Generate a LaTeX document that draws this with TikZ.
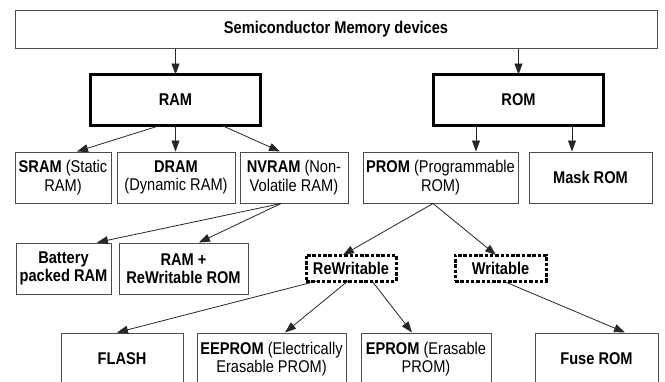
\documentclass[tikz,border=0pt]{standalone}
\usepackage{fontspec}
\setmainfont{Liberation Sans}[FakeStretch=0.86]
\usetikzlibrary{arrows.meta}

\tikzset{
  membox/.style={draw=black!70, line width=1pt, align=center, inner sep=0pt,
    font=\fontsize{17}{18.5}\selectfont},
  mainbox/.style={membox, draw=black, line width=3pt},
  dashbox/.style={membox, draw=black, line width=3pt, dash pattern=on 3.5pt off 1.8pt},
  arr/.style={-{Triangle[length=11pt,width=8pt]}, line width=0.8pt, draw=black!85},
}

\begin{document}
\begin{tikzpicture}[x=1pt, y=-1pt]
		%%%%% START %%%%%
		\fill[white] (0,0) rectangle (665,381);
		\useasboundingbox (0,0) rectangle (665,381);
		\clip (0,0) rectangle (665,381);
		
		\node[membox, minimum width=642pt, minimum height=38pt] (semi) at (336,29) {\textbf{Semiconductor Memory devices}};
		
		\node[mainbox, minimum width=170pt, minimum height=51pt] (ram) at (175.5,100) {\textbf{RAM}};
		\node[mainbox, minimum width=170pt, minimum height=51pt] (rom) at (518.5,100) {\textbf{ROM}};
		
		\node[membox, minimum width=96pt, minimum height=51pt] (sram) at (63,177.5) {\textbf{SRAM} (Static\\RAM)};
		\node[membox, minimum width=118pt, minimum height=51pt] (dram) at (176,177.5) {\textbf{DRAM}\\(Dynamic RAM)};
		\node[membox, minimum width=108pt, minimum height=51pt] (nvram) at (294,177.5) {\textbf{NVRAM} (Non-\\Volatile RAM)};
		\node[membox, minimum width=155pt, minimum height=51pt] (prom) at (440.5,177.5) {\textbf{PROM} (Programmable\\ROM)};
		\node[membox, minimum width=123pt, minimum height=51pt] (mask) at (590.5,177.5) {\textbf{Mask ROM}};
		
		\node[membox, minimum width=95pt, minimum height=51pt] (battery) at (63.5,268.5) {\textbf{Battery}\\\textbf{packed RAM}};
		\node[membox, minimum width=129pt, minimum height=51pt] (ramrom) at (183.5,268.5) {\textbf{RAM +}\\\textbf{ReWritable ROM}};
		\node[dashbox, minimum width=90pt, minimum height=26pt] (rewrite) at (351,268) {\textbf{ReWritable}};
		\node[dashbox, minimum width=91pt, minimum height=26pt] (write) at (500.5,268) {\textbf{Writable}};
		
		\node[membox, minimum width=122pt, minimum height=52pt] (flash) at (122,359) {\textbf{FLASH}};
		\node[membox, minimum width=149pt, minimum height=52pt] (eeprom) at (271.5,359) {\textbf{EEPROM} (Electrically\\Erasable PROM)};
		\node[membox, minimum width=130pt, minimum height=52pt] (eprom) at (426,359) {\textbf{EPROM} (Erasable\\PROM)};
		\node[membox, minimum width=123pt, minimum height=52pt] (fuse) at (596.5,359) {\textbf{Fuse ROM}};
		
		% top level
		\draw[arr] (semi.south -| ram.north) -- ([yshift=-1.5pt]ram.north);
		\draw[arr] (semi.south -| rom.north) -- ([yshift=-1.5pt]rom.north);
		
		% RAM family
		\draw[arr] ([xshift=-15.5pt,yshift=1.5pt]ram.south) -- ([xshift=14pt]sram.north);
		\draw[arr] ([yshift=1.5pt]ram.south) -- (ram.south |- dram.north);
		\draw[arr] ([xshift=46.5pt,yshift=1.5pt]ram.south) -- ([xshift=-14pt]nvram.north);
		\draw[arr] ([xshift=-13pt]nvram.south) -- ([xshift=33.5pt]battery.north);
		\draw[arr] ([xshift=-13pt]nvram.south) -- ([xshift=15.5pt]ramrom.north);
		
		% ROM family
		\draw[arr] ([xshift=-42.5pt,yshift=1.5pt]rom.south) -- ([xshift=-42.5pt]rom.south |- prom.north);
		\draw[arr] ([xshift=53.5pt,yshift=1.5pt]rom.south) -- ([xshift=53.5pt]rom.south |- mask.north);
		\draw[arr] ([xshift=-7.5pt]prom.south) -- ([xshift=-8pt,yshift=-1.5pt]rewrite.north);
		\draw[arr] ([xshift=-7.5pt]prom.south) -- ([xshift=-4.5pt,yshift=-1.5pt]write.north);
		
		\draw[arr] ([xshift=-34pt,yshift=1.5pt]rewrite.south) -- ([xshift=-5pt]flash.north);
		\draw[arr] ([xshift=-3pt,yshift=1.5pt]rewrite.south) -- ([xshift=13.5pt]eeprom.north);
		\draw[arr] ([xshift=21pt,yshift=1.5pt]rewrite.south) -- ([xshift=-14pt]eprom.north);
		\draw[arr] ([xshift=2.5pt,yshift=1.5pt]write.south) -- ([xshift=28.5pt]fuse.north);
		
		%%%%% END %%%%%
	\end{tikzpicture}
\end{document}
